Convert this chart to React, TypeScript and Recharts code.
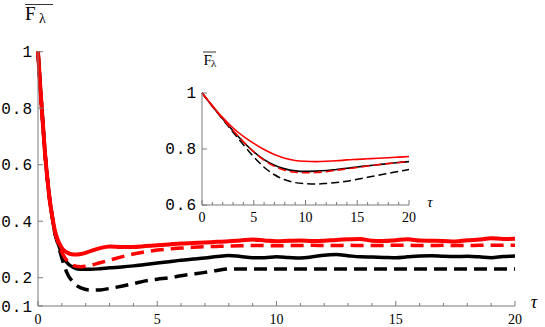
import React from 'react';
import { LineChart, Line, XAxis, YAxis } from 'recharts';

// ---- main plot data ----
const tau = [0, 0.1, 0.2, 0.3, 0.4, 0.5, 0.6, 0.7, 0.8, 1, 1.2, 1.5, 1.8, 2.2, 2.6, 3, 3.5, 4, 4.5,
  5, 5.5, 6, 6.5, 7, 7.5, 8, 8.5, 9, 9.5, 10, 10.5, 11, 11.5, 12, 12.5, 13, 13.5, 14, 14.5, 15, 15.5,
  16, 16.5, 17, 17.5, 18, 18.5, 19, 19.5, 20];
const head = [1, 0.87, 0.75, 0.635, 0.545, 0.47, 0.415];
const redSolid = [...head, 0.37, 0.34, 0.305, 0.29, 0.282, 0.284, 0.294, 0.305, 0.311, 0.309, 0.309, 0.312,
  0.315, 0.318, 0.321, 0.323, 0.325, 0.327, 0.329, 0.332, 0.335, 0.332, 0.329, 0.331, 0.332, 0.33, 0.331,
  0.334, 0.336, 0.337, 0.331, 0.33, 0.333, 0.336, 0.332, 0.331, 0.33, 0.328, 0.333, 0.335, 0.34, 0.337, 0.338];
const redDashed = [...head, 0.365, 0.335, 0.29, 0.262, 0.243, 0.239, 0.244, 0.253, 0.262, 0.274, 0.284, 0.292,
  0.298, 0.302, 0.305, 0.308, 0.31, 0.311, 0.312, 0.313, 0.314, 0.314, 0.313, 0.314, 0.314, 0.315, 0.314,
  0.314, 0.315, 0.314, 0.314, 0.314, 0.315, 0.315, 0.314, 0.314, 0.315, 0.314, 0.314, 0.315, 0.315, 0.315, 0.315];
const blackSolid = [...head, 0.362, 0.333, 0.285, 0.255, 0.236, 0.23, 0.23, 0.232, 0.235, 0.238, 0.242, 0.247,
  0.252, 0.257, 0.262, 0.266, 0.27, 0.275, 0.279, 0.275, 0.271, 0.271, 0.274, 0.272, 0.27, 0.274, 0.28,
  0.282, 0.278, 0.274, 0.273, 0.272, 0.271, 0.274, 0.277, 0.278, 0.276, 0.275, 0.276, 0.274, 0.271, 0.275, 0.277];
const blackDashed = [...head, 0.36, 0.33, 0.27, 0.22, 0.182, 0.164, 0.156, 0.157, 0.162, 0.17, 0.179, 0.189,
  0.195, 0.2, 0.207, 0.213, 0.219, 0.226, 0.231, 0.231, 0.231, 0.231, 0.231, 0.231, 0.231, 0.231, 0.231,
  0.231, 0.231, 0.231, 0.231, 0.231, 0.231, 0.231, 0.231, 0.231, 0.231, 0.231, 0.231, 0.231, 0.231, 0.231, 0.231];

// ---- inset data ----
const tauInset = [0, 1, 2, 3, 4, 5, 6, 7, 8, 9, 10, 11, 12, 13, 14, 15, 16, 17, 18, 19, 20];
const insetRedSolid = [1, 0.955, 0.912, 0.875, 0.845, 0.82, 0.798, 0.78, 0.767, 0.759, 0.756, 0.755, 0.756,
  0.758, 0.761, 0.763, 0.765, 0.767, 0.769, 0.771, 0.773];
const insetBlackSolid = [1, 0.953, 0.908, 0.865, 0.825, 0.79, 0.762, 0.742, 0.729, 0.722, 0.72, 0.721, 0.723,
  0.727, 0.731, 0.736, 0.74, 0.744, 0.748, 0.752, 0.755];
const insetRedDashed = [1, 0.953, 0.908, 0.866, 0.826, 0.79, 0.76, 0.738, 0.724, 0.717, 0.715, 0.716, 0.719,
  0.724, 0.729, 0.734, 0.739, 0.744, 0.748, 0.752, 0.756];
const insetBlackDashed = [1, 0.953, 0.906, 0.86, 0.815, 0.772, 0.735, 0.708, 0.69, 0.68, 0.676, 0.675, 0.677,
  0.68, 0.685, 0.692, 0.699, 0.706, 0.713, 0.72, 0.727];

// ---- ticks ----
const xTicks = Array.from({ length: 21 }, (_, i) => i);
const mainYTicks = [0.1, 0.2, 0.4, 0.6, 0.8, 1];
const insetYTicks = [0.6, 0.8, 1];

const mainData = tau.map((t, i) => ({
  t, rs: redSolid[i], rd: redDashed[i], bs: blackSolid[i], bd: blackDashed[i],
}));
const insetData = tauInset.map((t, i) => ({
  t, rs: insetRedSolid[i], rd: insetRedDashed[i], bs: insetBlackSolid[i], bd: insetBlackDashed[i],
}));

const AXIS = '#7a7a7a';
const SERIF = '"Liberation Serif", "Times New Roman", serif';
const MONO = '"Liberation Mono", "Courier New", monospace';

function makeXTick(labelDy: number, fs: number) {
  return (props: any) => {
    const { x, y, payload } = props;
    const v = payload.value;
    const major = v % 5 === 0;
    return (
      <g>
        <line x1={x} y1={y} x2={x} y2={y - (major ? 5 : 3)} stroke={AXIS} strokeWidth={1} />
        {major && (
          <text x={x} y={y + labelDy} textAnchor="middle" fontFamily={SERIF} fontSize={fs} fill="#000">
            {v}
          </text>
        )}
      </g>
    );
  };
}

function makeYTick(labelDy: number) {
  return (props: any) => {
    const { x, y, payload } = props;
    return (
      <g>
        <line x1={x} y1={y} x2={x + 5} y2={y} stroke={AXIS} strokeWidth={1} />
        <text x={x - 5} y={y + labelDy} textAnchor="end" fontFamily={MONO} fontSize={16}
          letterSpacing={1} fill="#000">
          {String(payload.value)}
        </text>
      </g>
    );
  };
}

const abs: React.CSSProperties = { position: 'absolute', left: 0, top: 0 };

export default function App() {
  return (
    <div style={{ position: 'absolute', left: 0, top: 0, width: 545, height: 327, background: '#fff' }}>
      <div style={abs}>
        <LineChart width={545} height={327} data={mainData}
          margin={{ top: 51.7, right: 30, bottom: 0, left: 0 }}>
          <XAxis dataKey="t" type="number" domain={[0, 20]} ticks={xTicks} interval={0}
            tickSize={0} tickMargin={0} tickLine={false} height={21}
            axisLine={{ stroke: AXIS }} tick={makeXTick(18, 14)} />
          <YAxis type="number" domain={[0.1, 1]} ticks={mainYTicks} interval={0}
            tickSize={0} tickMargin={0} tickLine={false} width={38}
            axisLine={{ stroke: AXIS }} tick={makeYTick(5.5)} />
          <Line dataKey="bd" type="monotone" stroke="#000" strokeWidth={3.5} strokeDasharray="13 7"
            dot={false} isAnimationActive={false} />
          <Line dataKey="bs" type="monotone" stroke="#000" strokeWidth={3.5}
            dot={false} isAnimationActive={false} />
          <Line dataKey="rd" type="monotone" stroke="#ff0000" strokeWidth={3.5} strokeDasharray="13 7"
            dot={false} isAnimationActive={false} />
          <Line dataKey="rs" type="monotone" stroke="#ff0000" strokeWidth={4}
            dot={false} isAnimationActive={false} />
        </LineChart>
      </div>
      <div style={abs}>
        <LineChart width={545} height={327} data={insetData}
          margin={{ top: 93, right: 136, bottom: 102, left: 162 }}>
          <XAxis dataKey="t" type="number" domain={[0, 20]} ticks={xTicks} interval={0}
            tickSize={0} tickMargin={0} tickLine={false} height={20}
            axisLine={{ stroke: AXIS }} tick={makeXTick(17, 14)} />
          <YAxis type="number" domain={[0.6, 1]} ticks={insetYTicks} interval={0}
            tickSize={0} tickMargin={0} tickLine={false} width={40}
            axisLine={{ stroke: AXIS }} tick={makeYTick(5)} />
          <Line dataKey="bd" type="monotone" stroke="#000" strokeWidth={1.5} strokeDasharray="8 4"
            dot={false} isAnimationActive={false} />
          <Line dataKey="bs" type="monotone" stroke="#000" strokeWidth={1.6}
            dot={false} isAnimationActive={false} />
          <Line dataKey="rd" type="monotone" stroke="#ff0000" strokeWidth={1.6} strokeDasharray="8 4"
            dot={false} isAnimationActive={false} />
          <Line dataKey="rs" type="monotone" stroke="#ff0000" strokeWidth={1.6}
            dot={false} isAnimationActive={false} />
        </LineChart>
      </div>
      <svg style={{ ...abs, pointerEvents: 'none' }} width={545} height={327}>
        {/* main y label */}
        <line x1={25} y1={4.5} x2={53} y2={4.5} stroke="#333" strokeWidth={1} />
        <text x={25} y={19.5} fontFamily={SERIF} fontSize={19} fill="#000">F</text>
        <text x={39} y={23} fontFamily={SERIF} fontSize={14} fill="#000">λ</text>
        {/* main x label */}
        <text x={534} y={308} textAnchor="middle" fontFamily={SERIF} fontStyle="italic" fontSize={18} fill="#000">τ</text>
        {/* inset y label */}
        <line x1={203} y1={52} x2={216} y2={52} stroke="#333" strokeWidth={1} />
        <text x={203.5} y={65} fontFamily={SERIF} fontSize={15} fill="#000">F</text>
        <text x={211} y={67} fontFamily={SERIF} fontSize={11} fill="#000">λ</text>
        {/* inset x label */}
        <text x={430} y={207} textAnchor="middle" fontFamily={SERIF} fontStyle="italic" fontSize={15} fill="#000">τ</text>
      </svg>
    </div>
  );
}
